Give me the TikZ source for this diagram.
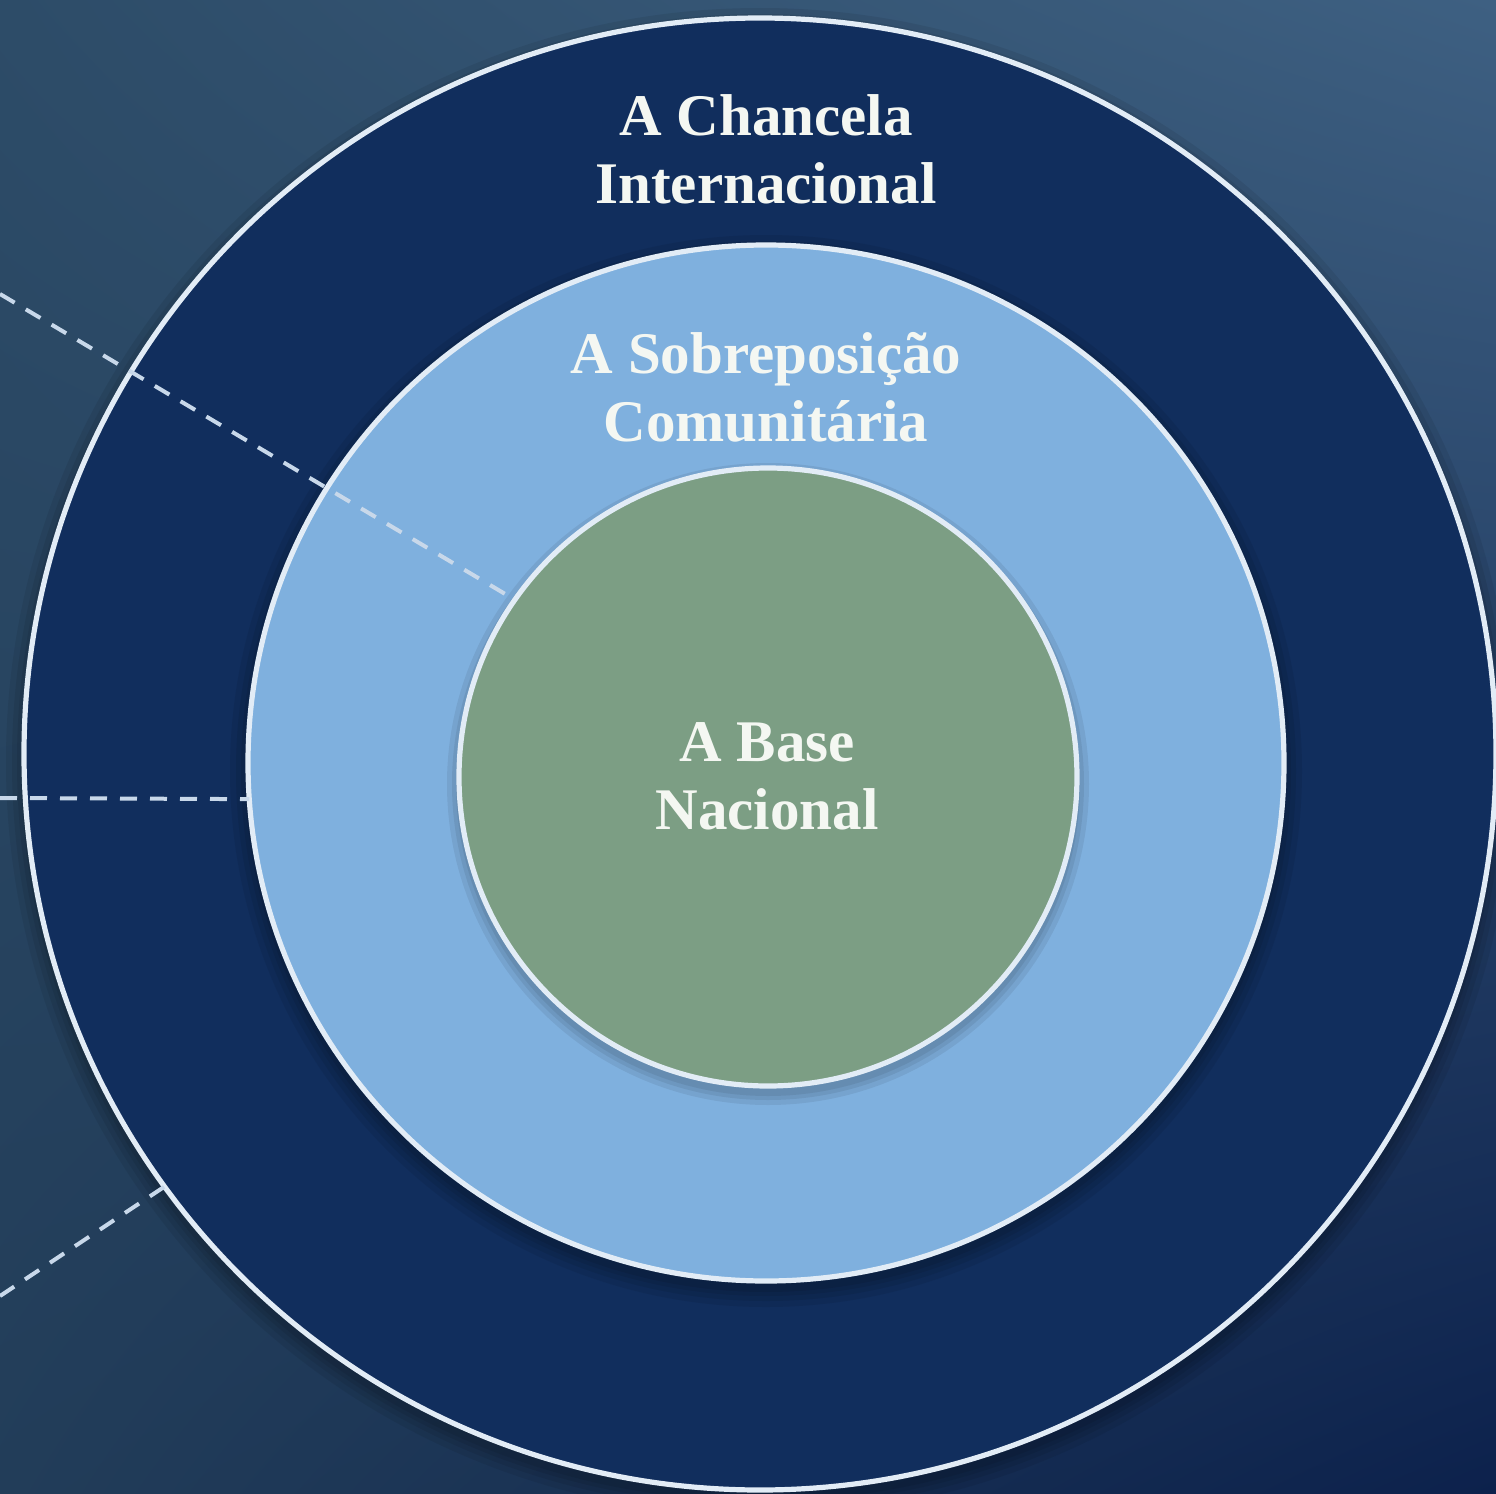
\documentclass[tikz,border=0pt]{standalone}
\usepackage{fontspec}
\usetikzlibrary{shadings}
\setmainfont{Liberation Serif}
\definecolor{bgUL}{RGB}{45,76,104}
\definecolor{bgUR}{RGB}{62,96,130}
\definecolor{bgLL}{RGB}{34,61,89}
\definecolor{bgLR}{RGB}{12,33,76}
\definecolor{navy}{RGB}{17,46,93}
\definecolor{sky}{RGB}{127,176,222}
\definecolor{sage}{RGB}{124,158,132}
\definecolor{ringline}{RGB}{226,236,246}
\definecolor{dashc}{RGB}{200,216,234}
\definecolor{txt}{RGB}{244,247,242}
\begin{document}
\begin{tikzpicture}[x=0.5pt,y=-0.5pt]
\tikzset{
  ring/.style={circle, inner sep=0pt, outer sep=0pt, draw=ringline, line width=2.6pt},
  lead/.style={draw=dashc, line width=2pt, dash pattern=on 8.5pt off 6.5pt},
  title/.style={text=txt, font=\bfseries\fontsize{29.5}{34}\selectfont, align=center, inner sep=0pt},
  halo/.style={fill=black, opacity=0.07},
}
\useasboundingbox (0,0) rectangle (1496,1494);
\clip (0,0) rectangle (1496,1494);
\shade[upper left=bgUL, upper right=bgUR, lower left=bgLL, lower right=bgLR] (0,0) rectangle (1496,1494);

% soft shadows
\foreach \d in {3,7,12,18}{
  \fill[halo] (760,762) circle[radius=368pt+\d*0.5pt];
}
\node[ring, fill=navy, minimum size=736pt] (outer) at (760,754) {};
\foreach \d in {3,7,12,18}{
  \fill[halo] (766,771) circle[radius=259pt+\d*0.5pt];
}
\node[ring, fill=sky, minimum size=518pt] (middle) at (766,763) {};
\foreach \d in {3,7,12}{
  \fill[halo] (768,784) circle[radius=154.5pt+\d*0.5pt];
}
\node[ring, fill=sage, minimum size=309pt] (inner) at (768,777) {};

% dashed leaders
\coordinate (d1) at (0,294);
\coordinate (d2) at (0,798);
\coordinate (d3) at (0,1296);
\draw[lead] (d1) -- (inner.145);
\draw[lead] (d2) -- (middle.184);
\draw[lead] (d3) -- (outer.216.5);

% labels
\node[title] (tchancela) at (766,149) {A Chancela\\Internacional};
\node[title] (tsobre) at (766,387) {A Sobreposição\\Comunitária};
\node[title] (tbase) at (767,776) {A Base\\Nacional};
\end{tikzpicture}
\end{document}
